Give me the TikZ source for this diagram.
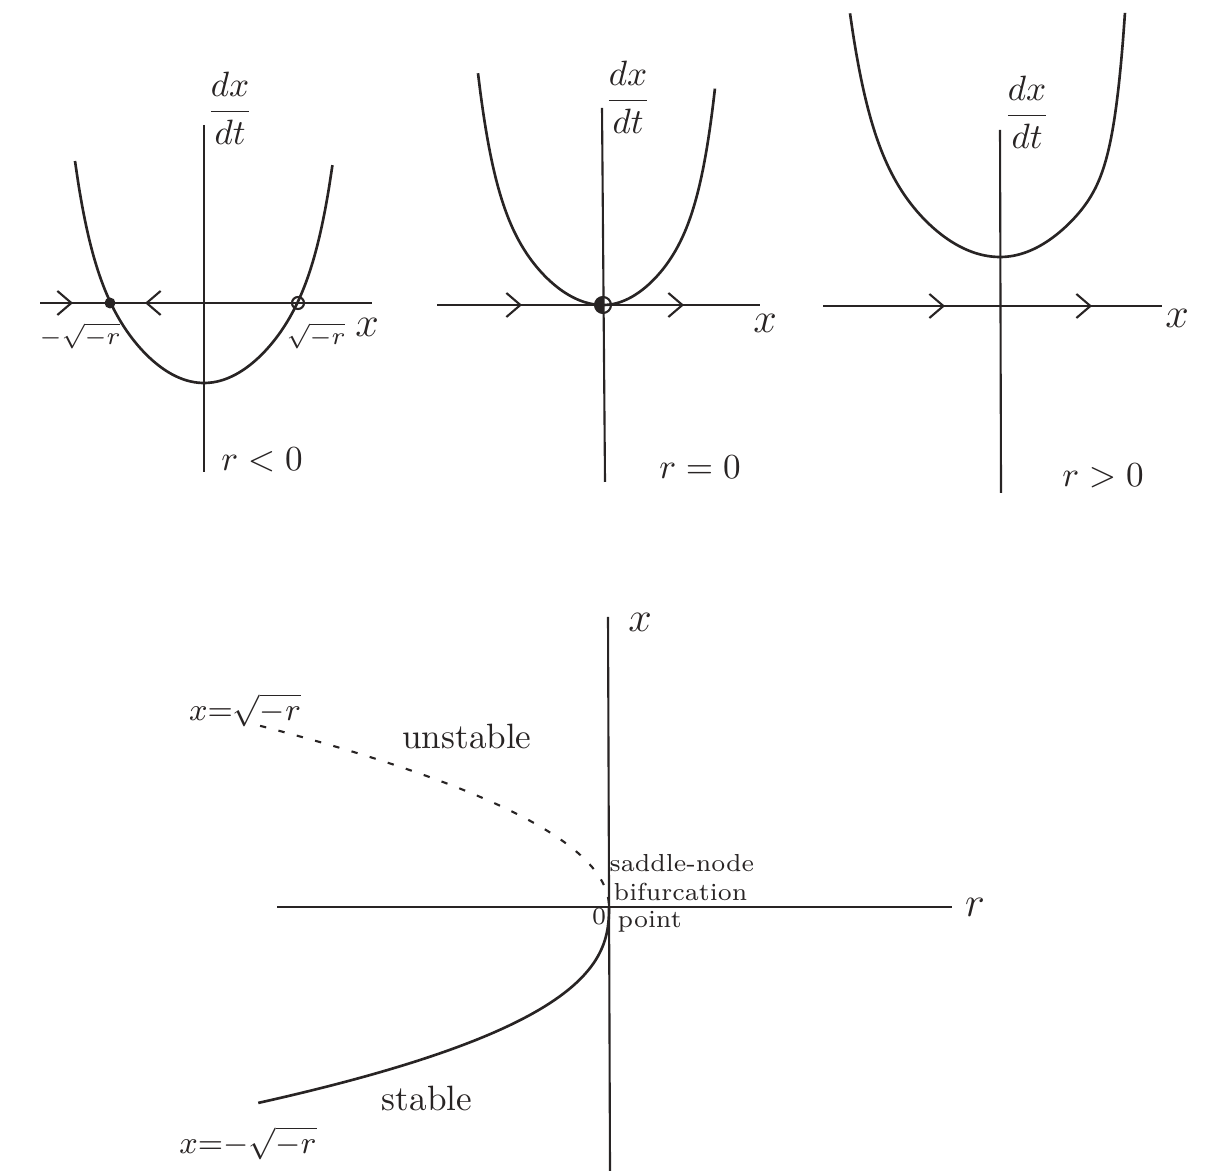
\documentclass[tikz,border=0pt]{standalone}
\usetikzlibrary{arrows.meta}
\definecolor{pencil}{RGB}{40,36,36}
\tikzset{
  axisline/.style={draw=pencil, line width=0.6pt},
  curveline/.style={draw=pencil, line width=0.75pt},
  unstableline/.style={draw=pencil, line width=0.6pt, dash pattern=on 1.8pt off 3.6pt},
  flowmark/.style={draw=pencil, line width=0.6pt, -{Straight Barb[length=1.4mm,width=2.4mm]}},
  fixedfilled/.style={fill=pencil},
  fixedopen/.style={draw=pencil, line width=0.6pt},
  lbl/.style={text=pencil, inner sep=1pt},
  caselbl/.style={lbl, font=\normalsize},
  smalllbl/.style={lbl, font=\scriptsize, anchor=west, inner sep=0pt}
}

\begin{document}
\begin{tikzpicture}[x=0.01cm, y=-0.01cm]
\useasboundingbox (0,0) rectangle (1210,1171);

% r < 0
\draw[axisline] (40,303) -- (372,303);
\draw[axisline] (204,125) -- (204,472);
\draw[curveline] plot[domain=-1.29:1.285, samples=70, smooth] ({204+100*\x}, {383-85*(\x)^2-10.5*(\x)^8});
\draw[flowmark] (58,303) -- (73,303);
\draw[flowmark] (160,303) -- (145,303);
\fill[fixedfilled] (110,303) circle[radius=5.5];
\draw[fixedopen] (298,303) circle[radius=6];
\node[lbl] (dxdtA) at (230,108) {$\displaystyle\frac{dx}{dt}$};
\node[lbl, font=\scriptsize] (rootL) at (80,336) {$-\sqrt{-r}$};
\node[lbl, font=\scriptsize] (rootR) at (316,336) {$\sqrt{-r}$};
\node[lbl, font=\large] (xA) at (367,327) {$x$};
\node[caselbl] (caseA) at (262,460) {$r<0$};

% r = 0
\draw[axisline] (437,305) -- (760,305);
\draw[axisline] (602,108) -- (605,482);
\draw[curveline] plot[domain=-1.25:0, samples=50, smooth] ({603+100*\x}, {305-85*(\x)^2-16.6*(\x)^8})
  -- plot[domain=0:1.12, samples=50, smooth] ({603+100*\x}, {305-98*(\x)^2-38*(\x)^8});
\draw[flowmark] (505,305) -- (522,305);
\draw[flowmark] (667,305) -- (684,305);
\fill[fixedfilled] (603,305) ++(0,8) arc[start angle=90, end angle=270, radius=8] -- cycle;
\draw[fixedopen] (603,305) circle[radius=8];
\node[lbl] (dxdtB) at (628,97) {$\displaystyle\frac{dx}{dt}$};
\node[lbl, font=\large] (xB) at (765,323) {$x$};
\node[caselbl] (caseB) at (700,467) {$r=0$};

% r > 0
\draw[axisline] (823,306) -- (1162,306);
\draw[axisline] (1000,130) -- (1001,493);
\draw[curveline] plot[domain=-1.5:0, samples=50, smooth] ({1000+100*\x}, {257-65*(\x)^2-3.8*(\x)^8})
  -- plot[domain=0:1.25, samples=60, smooth] ({1000+100*\x}, {257-70*(\x)^2-9.3*(\x)^12});
\draw[flowmark] (928,306) -- (945,306);
\draw[flowmark] (1075,306) -- (1092,306);
\node[lbl] (dxdtC) at (1027,112) {$\displaystyle\frac{dx}{dt}$};
\node[lbl, font=\large] (xC) at (1177,318) {$x$};
\node[caselbl] (caseC) at (1103,476) {$r>0$};

% bifurcation diagram
\draw[axisline] (277,907) -- (952,907);
\draw[axisline] (608,617) -- (610,1171);
\draw[unstableline] plot[domain=1.868:0, samples=60, smooth] ({609-100*\x*\x}, {907-97*\x});
\draw[curveline] plot[domain=1.652:0, samples=60, smooth] ({609-100*\x*\x*sqrt(\x)}, {907+118.6*\x});
\node[lbl, font=\large] (xAxis) at (640,622) {$x$};
\node[lbl, font=\large] (rAxis) at (975,907) {$r$};
\node[lbl, font=\small] (upperLbl) at (245,710) {$x{=}\sqrt{-r}$};
\node[lbl, font=\small] (lowerLbl) at (248,1143) {$x{=}{-}\sqrt{-r}$};
\node[lbl] (unstableLbl) at (467,736) {unstable};
\node[lbl] (stableLbl) at (427,1098) {stable};
\node[lbl, font=\scriptsize] (zeroLbl) at (599,917) {$0$};
\node[smalllbl] (snLbl) at (609,863) {saddle-node};
\node[smalllbl] (bifLbl) at (613,892) {bifurcation};
\node[smalllbl] (ptLbl) at (617,922) {point};
\end{tikzpicture}
\end{document}
